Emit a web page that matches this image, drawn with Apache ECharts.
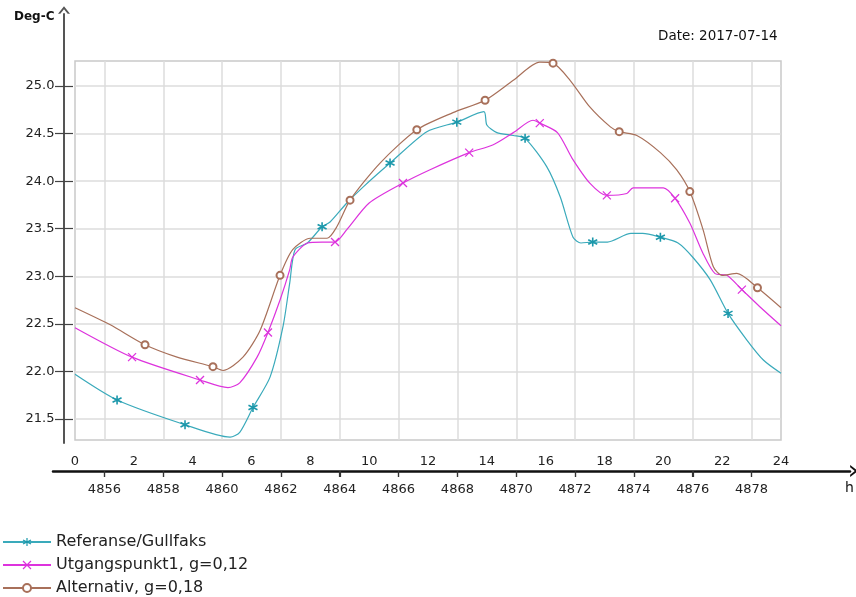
<!DOCTYPE html>
<html>
<head>
<meta charset="utf-8">
<script src="https://cdn.jsdelivr.net/npm/echarts@6/dist/echarts.min.js"></script>
<style>
  html, body { margin: 0; padding: 0; background: #fff; }
  #chart { width: 856px; height: 597px; }
</style>
</head>
<body>
<div id="chart"></div>
<script>
// hours from start of the day, temperatures in deg C
const refHours = [0, 1.43, 3.74, 5.27, 5.6, 6.05, 6.63, 7.07, 7.3, 7.48, 7.9, 8.4, 8.67, 9.24, 9.8, 10.71, 11.96, 12.98, 13.9, 14.0, 14.34, 14.9, 15.3, 16.04, 16.5, 16.93, 17.2, 17.6, 18.1, 18.9, 19.3, 19.9, 20.5, 21.0, 21.6, 22.2, 22.84, 23.4, 24];
const refTemps = [21.97, 21.70, 21.44, 21.31, 21.36, 21.62, 21.94, 22.47, 22.93, 23.28, 23.35, 23.52, 23.57, 23.77, 23.94, 24.19, 24.52, 24.62, 24.73, 24.59, 24.51, 24.48, 24.45, 24.15, 23.83, 23.41, 23.35, 23.36, 23.36, 23.45, 23.45, 23.41, 23.35, 23.20, 22.96, 22.61, 22.33, 22.12, 21.98];
const refMarks = [1.43, 3.74, 6.05, 8.4, 10.71, 12.98, 15.3, 17.6, 19.9, 22.2];

const utgHours = [0, 1.94, 4.25, 5.2, 5.6, 6.19, 6.56, 6.97, 7.3, 7.4, 7.9, 8.4, 8.84, 9.24, 10.0, 11.15, 12.07, 13.4, 14.2, 14.9, 15.57, 15.8, 16.4, 16.9, 17.5, 18.08, 18.76, 18.97, 20.0, 20.4, 20.9, 21.35, 21.75, 22.16, 22.67, 23.28, 24];
const utgTemps = [22.46, 22.15, 21.91, 21.83, 21.88, 22.15, 22.41, 22.75, 23.07, 23.20, 23.35, 23.36, 23.36, 23.49, 23.77, 23.98, 24.12, 24.30, 24.38, 24.51, 24.64, 24.61, 24.51, 24.24, 23.98, 23.85, 23.87, 23.93, 23.93, 23.82, 23.56, 23.24, 23.03, 23.01, 22.86, 22.68, 22.48];
const utgMarks = [1.94, 4.25, 6.56, 8.84, 11.15, 13.4, 15.8, 18.08, 20.4, 22.67];

const altHours = [0, 1.2, 2.38, 3.47, 4.69, 5.03, 5.71, 6.29, 6.97, 7.4, 8.0, 8.57, 8.9, 9.35, 10.37, 11.62, 12.85, 13.94, 14.9, 15.8, 16.25, 16.83, 17.5, 18.2, 18.5, 19.1, 19.9, 20.45, 20.9, 21.35, 21.7, 22.0, 22.5, 23.2, 24];
const altTemps = [22.67, 22.49, 22.28, 22.15, 22.05, 22.01, 22.15, 22.43, 23.01, 23.28, 23.40, 23.40, 23.52, 23.80, 24.19, 24.54, 24.72, 24.85, 25.06, 25.25, 25.24, 25.06, 24.78, 24.57, 24.52, 24.48, 24.30, 24.12, 23.89, 23.49, 23.10, 23.01, 23.03, 22.88, 22.67];
const altMarks = [2.38, 4.69, 6.97, 9.35, 11.62, 13.94, 16.25, 18.5, 20.9, 23.2];

const tempTicks = [21.5, 22.0, 22.5, 23.0, 23.5, 24.0, 24.5, 25.0];
const hourTicks = [0, 2, 4, 6, 8, 10, 12, 14, 16, 18, 20, 22, 24];
const timeTicks = [4856, 4858, 4860, 4862, 4864, 4866, 4868, 4870, 4872, 4874, 4876, 4878];
const timeAtHourZero = 4855;

// layout (pixels)
const plotL = 75, plotR = 781, plotT = 61, plotB = 440;
const pxPerHour = (plotR - plotL) / 24;
const y25 = 86, y215 = 419;
const pxPerDeg = (y215 - y25) / 3.5;
const yAxisX = 64, yAxisTop = 14, yAxisBot = 443;
const xAxisY = 471, xAxisL = 53, xAxisR = 850;

const font = 'DejaVu Sans';
const ASTERISK = 'path://M5,0L5,10M0.67,2.5L9.33,7.5M0.67,7.5L9.33,2.5';
const CROSS = 'path://M0,0L10,10M0,10L10,0';
const CHEVRON = 'path://M0,0L7,9L4.3,9L0,3.6L-4.3,9L-7,9Z';

const gridHours = timeTicks.map(t => t - timeAtHourZero);

function seriesData(hours, temps, marks, sym) {
  return hours.map((h, i) => ({
    value: [h, temps[i]],
    symbol: marks.includes(h) ? sym : 'none'
  }));
}

const chart = echarts.init(document.getElementById('chart'));

const hourMin = (xAxisL - plotL) / pxPerHour;
const hourMax = (xAxisR - plotL) / pxPerHour;
const degMin = 21.5 - (yAxisBot - y215) / pxPerDeg;
const degMax = 25 + (y25 - yAxisTop) / pxPerDeg;

const hidden = { show: false };
const tickLabel = { color: '#222', fontSize: 13, fontFamily: font };

const option = {
  animation: false,
  grid: [
    { left: plotL, top: plotT, width: plotR - plotL, height: plotB - plotT,
      show: true, borderColor: '#c9c9c9', borderWidth: 1.5, backgroundColor: 'transparent' },
    { left: yAxisX, top: yAxisTop, width: 9, height: yAxisBot - yAxisTop },
    { left: xAxisL, top: xAxisY - 6, width: xAxisR - xAxisL, height: 6 }
  ],
  xAxis: [
    { type: 'value', gridIndex: 0, min: 0, max: 24,
      axisLine: hidden, axisLabel: hidden,
      axisTick: { show: false, customValues: gridHours },
      splitLine: { show: true, lineStyle: { color: '#dcdcdc', width: 1.5 } } },
    { type: 'value', gridIndex: 2, position: 'top', min: hourMin, max: hourMax,
      axisLine: hidden,
      axisTick: { show: true, inside: true, length: 6, customValues: gridHours, lineStyle: { color: '#333', width: 1.2 } },
      axisLabel: Object.assign({ customValues: hourTicks, margin: -3 }, tickLabel),
      splitLine: hidden },
    { type: 'value', gridIndex: 2, position: 'bottom',
      min: timeAtHourZero + hourMin, max: timeAtHourZero + hourMax,
      axisLine: { show: true, symbol: ['none', CHEVRON], symbolSize: [12, 10], symbolOffset: [0, 4],
        lineStyle: { color: '#111', width: 2.5 } },
      axisTick: { show: true, length: 6, customValues: timeTicks, lineStyle: { color: '#333', width: 1.2 } },
      axisLabel: Object.assign({ customValues: timeTicks, margin: 12, formatter: v => String(v) }, tickLabel),
      splitLine: hidden },
    { type: 'value', gridIndex: 1, min: 0, max: 1, show: false }
  ],
  yAxis: [
    { type: 'value', gridIndex: 0,
      min: 21.5 - (plotB - y215) / pxPerDeg, max: 25 + (y25 - plotT) / pxPerDeg,
      axisLine: hidden, axisLabel: hidden,
      axisTick: { show: false, customValues: tempTicks },
      splitLine: { show: true, lineStyle: { color: '#dcdcdc', width: 1.5 } } },
    { type: 'value', gridIndex: 1, position: 'left', min: degMin, max: degMax,
      axisLine: { show: true, symbol: ['none', CHEVRON], symbolSize: [12, 10], symbolOffset: [0, 4],
        lineStyle: { color: '#555', width: 2 } },
      axisTick: { show: true, length: 9, customValues: tempTicks, lineStyle: { color: '#444', width: 1.2 } },
      axisLabel: Object.assign({ customValues: tempTicks, margin: 9.5, formatter: v => v.toFixed(1) }, tickLabel),
      splitLine: hidden },
    { type: 'value', gridIndex: 1, position: 'right', min: degMin, max: degMax,
      axisLine: hidden, axisLabel: hidden,
      axisTick: { show: true, inside: true, length: 9, customValues: tempTicks, lineStyle: { color: '#444', width: 1.2 } },
      splitLine: hidden },
    { type: 'value', gridIndex: 2, min: 0, max: 1, show: false }
  ],
  legend: {
    orient: 'vertical', left: 2, top: 534, height: 70, padding: 0,
    itemWidth: 48, itemHeight: 10, itemGap: 7,
    textStyle: { fontSize: 16, fontFamily: font, color: '#222' },
    itemStyle: { borderWidth: 1.2 }
  },
  graphic: [
    { type: 'text', left: 14, top: 11, style: { text: 'Deg-C', font: 'bold 12px "DejaVu Sans"', fill: '#111' } },
    { type: 'text', left: 658, top: 29, style: { text: 'Date: 2017-07-14', font: '13.5px "DejaVu Sans"', fill: '#111' } },
    { type: 'text', left: 845, top: 481, style: { text: 'h', font: '14px "DejaVu Sans"', fill: '#111' } }
  ],
  series: [
    { name: 'Referanse/Gullfaks', type: 'line', xAxisIndex: 0, yAxisIndex: 0,
      data: seriesData(refHours, refTemps, refMarks, ASTERISK),
      smooth: 0.25, symbolSize: 9, showSymbol: true, symbol: ASTERISK,
      lineStyle: { color: '#3aaabb', width: 1.2 },
      itemStyle: { color: '#1c98ab', borderColor: '#1c98ab', borderWidth: 1.6 } },
    { name: 'Utgangspunkt1, g=0,12', type: 'line', xAxisIndex: 0, yAxisIndex: 0,
      data: seriesData(utgHours, utgTemps, utgMarks, CROSS),
      smooth: 0.25, symbolSize: 8, showSymbol: true, symbol: CROSS,
      lineStyle: { color: '#dd33dd', width: 1.2 },
      itemStyle: { color: '#dd33dd', borderColor: '#dd33dd', borderWidth: 1.3 } },
    { name: 'Alternativ, g=0,18', type: 'line', xAxisIndex: 0, yAxisIndex: 0,
      data: seriesData(altHours, altTemps, altMarks, 'emptyCircle'),
      smooth: 0.25, symbolSize: 7, showSymbol: true, symbol: 'emptyCircle',
      lineStyle: { color: '#a8705a', width: 1.2 },
      itemStyle: { color: '#a8705a', borderColor: '#a8705a', borderWidth: 1.2 } }
  ]
};

chart.setOption(option);
</script>
</body>
</html>
